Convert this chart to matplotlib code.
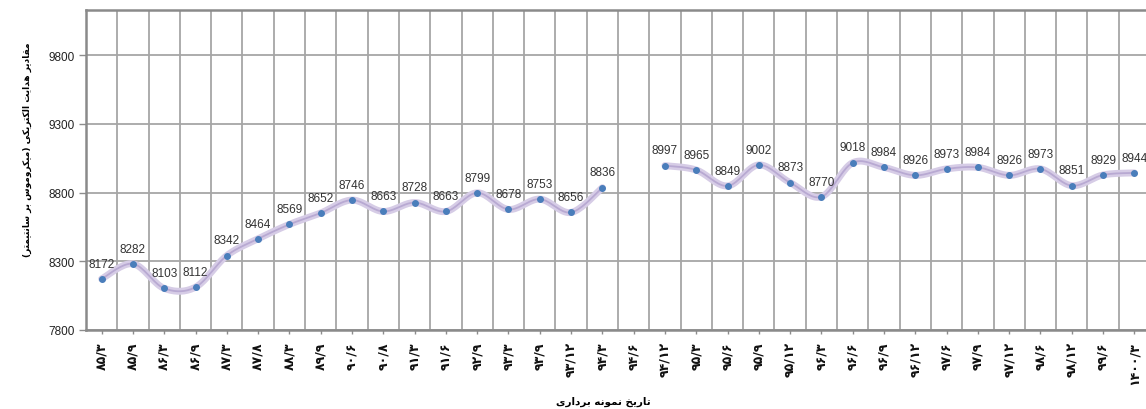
import numpy as np
import matplotlib
matplotlib.use("Agg")
import matplotlib.pyplot as plt

# sampling dates (solar hijri year/month), one gap at 94/6
dates = ["۸۵/۳", "۸۵/۹", "۸۶/۳", "۸۶/۹", "۸۷/۳", "۸۷/۸", "۸۸/۳", "۸۹/۹",
         "۹۰/۶", "۹۰/۸", "۹۱/۳", "۹۱/۶", "۹۲/۹", "۹۳/۳", "۹۳/۹", "۹۳/۱۲",
         "۹۴/۳", "۹۴/۶", "۹۴/۱۲", "۹۵/۳", "۹۵/۶", "۹۵/۹", "۹۵/۱۲", "۹۶/۳",
         "۹۶/۶", "۹۶/۹", "۹۶/۱۲", "۹۷/۶", "۹۷/۹", "۹۷/۱۲", "۹۸/۶", "۹۸/۱۲",
         "۹۹/۶", "۱۴۰۰/۳"]
ec_values = [8172, 8282, 8103, 8112, 8342, 8464, 8569, 8652,
             8746, 8663, 8728, 8663, 8799, 8678, 8753, 8656,
             8836, np.nan, 8997, 8965, 8849, 9002, 8873, 8770,
             9018, 8984, 8926, 8973, 8984, 8926, 8973, 8851,
             8929, 8944]
y_ticks = [7800, 8300, 8800, 9300, 9800]

x_title = "تاریخ نمونه برداری"
y_title = "مقادیر هدایت الکتریکی (میکروموس بر سانتیمتر)"

# matplotlib has no arabic shaping, so pick presentation forms by hand
# (isolated, final, initial, medial)
FORMS = {
    "ا": ("\uFE8D", "\uFE8E", None, None),
    "ب": ("\uFE8F", "\uFE90", "\uFE91", "\uFE92"),
    "ت": ("\uFE95", "\uFE96", "\uFE97", "\uFE98"),
    "خ": ("\uFEA5", "\uFEA6", "\uFEA7", "\uFEA8"),
    "د": ("\uFEA9", "\uFEAA", None, None),
    "ر": ("\uFEAD", "\uFEAE", None, None),
    "س": ("\uFEB1", "\uFEB2", "\uFEB3", "\uFEB4"),
    "ق": ("\uFED5", "\uFED6", "\uFED7", "\uFED8"),
    "ک": ("\uFB8E", "\uFB8F", "\uFB90", "\uFB91"),
    "ل": ("\uFEDD", "\uFEDE", "\uFEDF", "\uFEE0"),
    "م": ("\uFEE1", "\uFEE2", "\uFEE3", "\uFEE4"),
    "ن": ("\uFEE5", "\uFEE6", "\uFEE7", "\uFEE8"),
    "ه": ("\uFEE9", "\uFEEA", "\uFEEB", "\uFEEC"),
    "و": ("\uFEED", "\uFEEE", None, None),
    "ی": ("\uFBFC", "\uFBFD", "\uFBFE", "\uFBFF"),
}


def shape_rtl(text):
    out = []
    for i, ch in enumerate(text):
        if ch not in FORMS:
            out.append(ch)
            continue
        prev = text[i - 1] if i > 0 else ""
        nxt = text[i + 1] if i + 1 < len(text) else ""
        joins_prev = prev in FORMS and FORMS[prev][2] is not None
        joins_next = nxt in FORMS and FORMS[ch][2] is not None
        iso, fin, ini, med = FORMS[ch]
        if joins_prev and joins_next:
            out.append(med)
        elif joins_next:
            out.append(ini)
        elif joins_prev:
            out.append(fin)
        else:
            out.append(iso)
    swap = {"(": ")", ")": "("}
    return "".join(swap.get(c, c) for c in reversed(out))


def smooth(xs, ys, n=20):
    # excel style smoothed line (bezier through the points)
    xs, ys = np.asarray(xs, float), np.asarray(ys, float)
    px = np.concatenate([[xs[0]], xs, [xs[-1]]])
    py = np.concatenate([[ys[0]], ys, [ys[-1]]])
    t = np.linspace(0, 1, n)
    sx, sy = [], []
    for i in range(1, len(px) - 2):
        p0 = np.array([px[i], py[i]])
        p3 = np.array([px[i + 1], py[i + 1]])
        p1 = p0 + (p3 - np.array([px[i - 1], py[i - 1]])) / 6
        p2 = p3 - (np.array([px[i + 2], py[i + 2]]) - p0) / 6
        b = ((1 - t) ** 3)[:, None] * p0 + (3 * (1 - t) ** 2 * t)[:, None] * p1 \
            + (3 * (1 - t) * t ** 2)[:, None] * p2 + (t ** 3)[:, None] * p3
        sx.extend(b[:, 0])
        sy.extend(b[:, 1])
    return sx, sy


W, H = 1146, 410
fig = plt.figure(figsize=(W / 100, H / 100), dpi=100)
ax = fig.add_axes([86 / W, 1 - 331 / H, 1064 / W, 320 / H])

x = np.arange(len(dates))
vals = np.array(ec_values, float)

# split into runs without gaps
runs = []
cur = []
for i, v in enumerate(vals):
    if np.isnan(v):
        if cur:
            runs.append(cur)
        cur = []
    else:
        cur.append(i)
if cur:
    runs.append(cur)

for r in runs:
    sx, sy = smooth(x[r], vals[r])
    ax.plot(sx, sy, color="#d6cce6", lw=5, solid_capstyle="round", zorder=3)
    ax.plot(sx, sy, color="#b8a9d2", lw=1.3, zorder=3)

ax.plot(x, vals, linestyle="none", marker="o", markersize=4,
        color="#4a7ebb", zorder=4)

for xi, v in zip(x, vals):
    if np.isnan(v):
        continue
    ax.annotate(f"{int(v)}", (xi, v), xytext=(0, 11), textcoords="offset points",
                ha="center", va="center", fontsize=8.5, family="Liberation Sans",
                color="#333333", zorder=5)

ax.set_xlim(-0.5, len(dates) - 0.5)
ax.set_ylim(7800, 10130)
ax.set_yticks(y_ticks)
ax.set_yticklabels([str(t) for t in y_ticks], fontsize=8.5,
                   family="Liberation Sans", color="#222222")
ax.set_xticks(x)
ax.set_xticklabels(dates, rotation=90, fontsize=9, fontweight="bold",
                   family="DejaVu Sans", color="#111111")
ax.set_xticks(np.arange(len(dates) + 1) - 0.5, minor=True)

ax.grid(True, axis="y", which="major", color="#a6a6a6", lw=1.3)
ax.grid(True, axis="x", which="minor", color="#a6a6a6", lw=1.3)
ax.tick_params(axis="y", length=5, width=1, color="#8c8c8c", pad=3)
ax.tick_params(axis="x", which="major", length=3, width=1, color="#8c8c8c", pad=5)
ax.tick_params(axis="x", which="minor", length=0)
ax.set_axisbelow(True)

for side in ["left", "top", "bottom", "right"]:
    ax.spines[side].set_color("#8a8a8a")
    ax.spines[side].set_linewidth(1.8)

fig.text(603 / W, 1 - 402 / H, shape_rtl(x_title), ha="center", va="center",
         fontsize=7.5, fontweight="bold", family="DejaVu Sans")
fig.text(27 / W, 1 - 150 / H, shape_rtl(y_title), ha="center", va="center",
         rotation=90, fontsize=6.5, fontweight="bold", family="DejaVu Sans")

fig.savefig("out.png", dpi=100)
